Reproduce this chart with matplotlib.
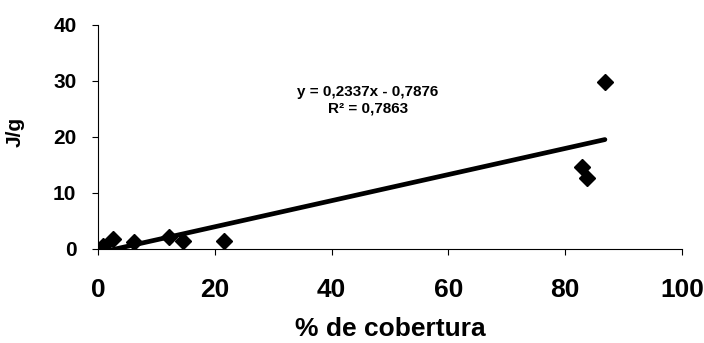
import matplotlib
matplotlib.use("Agg")
import matplotlib.pyplot as plt
import numpy as np

# Data
cobertura = [0.9, 2.6, 6.2, 12.2, 14.6, 21.6, 82.8, 83.7, 86.8]
jg = [0.4, 1.7, 1.2, 2.1, 1.3, 1.3, 14.5, 12.7, 29.8]
slope = 0.2337
intercept = -0.7876
eq_text = "y = 0,2337x - 0,7876"
r2_text = "R² = 0,7863"
x_ticks = [0, 20, 40, 60, 80, 100]
y_ticks = [0, 10, 20, 30, 40]

plt.rcParams['font.family'] = ['Liberation Sans', 'DejaVu Sans']
plt.rcParams['font.weight'] = 'bold'

fig = plt.figure(figsize=(7.04, 3.43), dpi=100)
ax = fig.add_axes([98/704, 94.5/343, 584/704, 223.5/343])

ax.plot(cobertura, jg, linestyle='none', marker='D', markersize=8.5,
        color='black', markeredgewidth=1, zorder=3)

xs = np.array([min(cobertura), max(cobertura)])
ax.plot(xs, slope * xs + intercept, color='black', linewidth=3.4,
        solid_capstyle='round', zorder=2)

ax.set_xlim(0, 100)
ax.set_ylim(0, 40)
ax.set_xticks(x_ticks)
ax.set_yticks(y_ticks)
ax.set_xticklabels([str(v) for v in x_ticks], fontsize=19, fontweight='bold')
ax.set_yticklabels([str(v) for v in y_ticks], fontsize=15, fontweight='bold')
ax.tick_params(axis='x', direction='out', length=4, width=0.8, pad=17)
ax.tick_params(axis='y', direction='out', length=4, width=0.8, pad=11.5)

for s in ['top', 'right']:
    ax.spines[s].set_visible(False)
for s in ['left', 'bottom']:
    ax.spines[s].set_linewidth(0.8)
    ax.spines[s].set_color('black')

ax.set_xlabel("% de cobertura", fontsize=19, fontweight='bold', labelpad=11)
ax.set_ylabel("J/g", fontsize=15, fontweight='bold')
ax.yaxis.set_label_coords(-0.125, 0.52)

ax.text(368/704, (343-92)/343, eq_text, transform=fig.transFigure,
        ha='center', va='center', fontsize=11, fontweight='bold')
ax.text(368/704, (343-109)/343, r2_text, transform=fig.transFigure,
        ha='center', va='center', fontsize=11, fontweight='bold')

fig.savefig("out.png", dpi=100)
